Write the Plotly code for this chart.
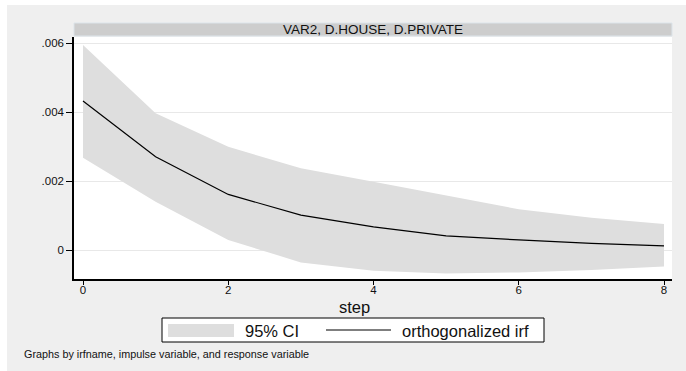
import plotly.graph_objects as go

# Orthogonalized impulse response: VAR2, impulse D.HOUSE, response D.PRIVATE
steps = [0, 1, 2, 3, 4, 5, 6, 7, 8]
oirf = [0.00433, 0.00271, 0.00162, 0.00102, 0.00068, 0.00042, 0.00030, 0.00020, 0.00013]
ci_upper = [0.00595, 0.00397, 0.00300, 0.00238, 0.00199, 0.00160, 0.00119, 0.00094, 0.00076]
ci_lower = [0.00268, 0.00141, 0.00030, -0.00035, -0.00059, -0.00067, -0.00064, -0.00057, -0.00047]

y_ticks = [0, 0.002, 0.004, 0.006]
y_tick_text = ["0", ".002", ".004", ".006"]
x_ticks = [0, 2, 4, 6, 8]

panel_title = "VAR2, D.HOUSE, D.PRIVATE"
x_title = "step"
legend_ci = "95% CI"
legend_irf = "orthogonalized irf"
note = "Graphs by irfname, impulse variable, and response variable"

W, H = 686, 371
L, R, T, B = 74, 672, 37, 279  # plot area in pixels
PW, PH = R - L, B - T

FONT = "Liberation Sans, Arial, Helvetica, sans-serif"
BAND = "#dedede"
TXT = "#111111"


def px(x):
    return (x - L) / PW


def py(y):
    return (B - y) / PH


fig = go.Figure()
fig.add_trace(go.Scatter(x=steps, y=ci_lower, mode="lines",
                         line=dict(width=0, color="rgba(0,0,0,0)"),
                         showlegend=False, hoverinfo="skip"))
fig.add_trace(go.Scatter(x=steps, y=ci_upper, mode="lines", fill="tonexty",
                         fillcolor=BAND, line=dict(width=0, color=BAND),
                         showlegend=False, name=legend_ci))
fig.add_trace(go.Scatter(x=steps, y=oirf, mode="lines",
                         line=dict(color="#000000", width=1.2),
                         showlegend=False, name=legend_irf))

shapes = [
    # white page edge on left and top
    dict(type="rect", xref="paper", yref="paper", x0=px(0), x1=px(7),
         y0=py(371), y1=py(0), fillcolor="white", line=dict(width=0), layer="below"),
    dict(type="rect", xref="paper", yref="paper", x0=px(0), x1=px(686),
         y0=py(5), y1=py(0), fillcolor="white", line=dict(width=0), layer="below"),
    # panel strip
    dict(type="rect", xref="paper", yref="paper", x0=px(74), x1=px(672),
         y0=py(36), y1=py(23), fillcolor="#cdcdcd",
         line=dict(color="#dce4ea", width=1)),
    # legend box
    dict(type="rect", xref="paper", yref="paper", x0=px(162), x1=px(544),
         y0=py(342), y1=py(318), fillcolor="white",
         line=dict(color="#000000", width=1)),
    dict(type="rect", xref="paper", yref="paper", x0=px(168), x1=px(234),
         y0=py(337), y1=py(324), fillcolor=BAND, line=dict(width=0)),
    dict(type="line", xref="paper", yref="paper", x0=px(326), x1=px(391),
         y0=py(330), y1=py(330), line=dict(color="#000000", width=1.2)),
]

annotations = [
    dict(text=panel_title, xref="paper", yref="paper", x=px(373), y=py(29.5),
         xanchor="center", yanchor="middle", showarrow=False,
         font=dict(family=FONT, size=13.5, color=TXT)),
    dict(text=x_title, xref="paper", yref="paper", x=px(354), y=py(307),
         xanchor="center", yanchor="middle", showarrow=False,
         font=dict(family=FONT, size=16.5, color=TXT)),
    dict(text=legend_ci, xref="paper", yref="paper", x=px(243), y=py(330.5),
         xanchor="left", yanchor="middle", showarrow=False,
         font=dict(family=FONT, size=16.5, color=TXT)),
    dict(text=legend_irf, xref="paper", yref="paper", x=px(400), y=py(330.5),
         xanchor="left", yanchor="middle", showarrow=False,
         font=dict(family=FONT, size=16.5, color=TXT)),
    dict(text=note, xref="paper", yref="paper", x=px(22), y=py(354),
         xanchor="left", yanchor="middle", showarrow=False,
         font=dict(family=FONT, size=10.8, color=TXT)),
]

x_per_px = 8 / (664 - 83)
y_per_px = 0.006 / (250.3 - 43.3)

fig.update_layout(
    width=W, height=H,
    margin=dict(l=L, r=W - R, t=T, b=H - B, pad=0),
    paper_bgcolor="#efefef",
    plot_bgcolor="white",
    showlegend=False,
    shapes=shapes,
    annotations=annotations,
    xaxis=dict(range=[-(83 - L) * x_per_px, 8 + (R - 664) * x_per_px],
               tickvals=x_ticks, ticks="outside", ticklen=4, tickcolor="#000",
               ticklabelstandoff=-5,
               showline=True, linecolor="#000000", linewidth=1.5,
               showgrid=False, zeroline=False,
               tickfont=dict(family=FONT, size=11.5, color=TXT)),
    yaxis=dict(range=[-(B - 250.3) * y_per_px, 0.006 + (43.3 - T) * y_per_px],
               tickvals=y_ticks, ticktext=y_tick_text, ticks="outside",
               ticklen=6, tickcolor="#000",
               showline=True, linecolor="#000000", linewidth=1.5,
               showgrid=True, gridcolor="#e8e8e8", gridwidth=1,
               zeroline=False,
               tickfont=dict(family=FONT, size=11.5, color=TXT)),
)

fig.write_html("out.html")
